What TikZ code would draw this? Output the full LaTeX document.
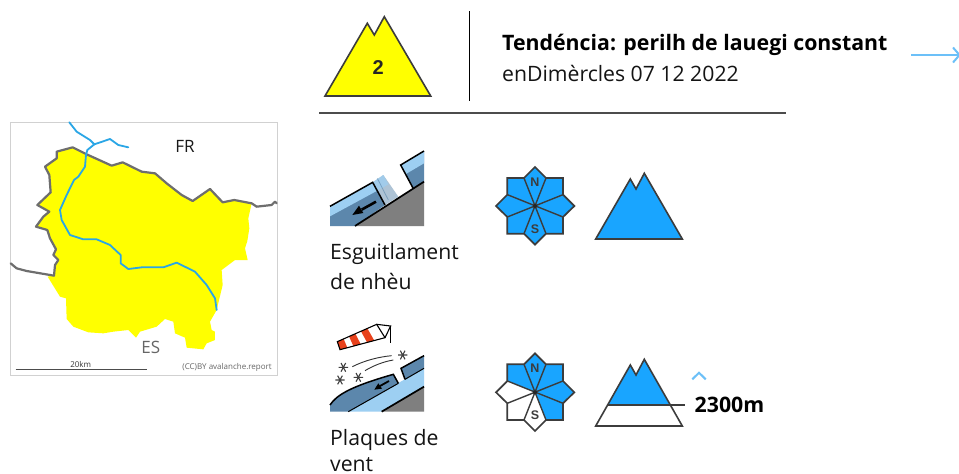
\documentclass[tikz,border=0pt]{standalone}
\usepackage{fontspec}
\setmainfont{Open Sans}
\newfontfamily\arialf{Liberation Sans}
\definecolor{hazardyellow}{HTML}{FFFF00}
\definecolor{dangerblue}{HTML}{19A5FF}
\definecolor{riverblue}{HTML}{2AA6E6}
\definecolor{bordergray}{HTML}{6E6E6E}
\definecolor{iconline}{HTML}{3C3C3C}
\definecolor{slabdark}{HTML}{5C87AC}
\definecolor{slablight}{HTML}{9DCFF2}
\definecolor{groundgray}{HTML}{7F7F7F}
\definecolor{sockred}{HTML}{E8421C}
\definecolor{uiblue}{HTML}{6CC0F8}
\tikzset{
  txt/.style={anchor=base west,inner sep=0pt,font=\fontsize{21.2}{21}\selectfont,text=black!92},
  txtb/.style={txt,font=\fontsize{21.3}{21}\selectfont\bfseries,text=black},
  mtn/.style={draw=iconline,line width=1.6pt,line join=miter},
  roseline/.style={draw=iconline,line width=1.7pt,line join=miter},
  rosetxt/.style={font=\arialf\bfseries\fontsize{12.5}{12}\selectfont,text=iconline,inner sep=0pt},
  border/.style={draw=bordergray,line width=2.2pt,line join=round,line cap=round},
  river/.style={draw=riverblue,line width=1.8pt,line join=round,line cap=round},
  zoomed/.style={x=0.33333pt,y=-0.33333pt},
  uiline/.style={draw=uiblue,line width=2pt}
}
% centre x, centre y, colours N NE E SE S SW W NW
\newcommand{\windrose}[9]{%
\begin{scope}[shift={(#1,#2)},zoomed]
  \fill[#3] (0,0)--(-33,-84)--(0,-117)--(33,-84)--cycle;
  \fill[#4] (0,0)--(33,-84)--(84,-84)--(84,-34)--cycle;
  \fill[#5] (0,0)--(84,-34)--(118,0)--(84,33)--cycle;
  \fill[#6] (0,0)--(84,33)--(84,83)--(33,83)--cycle;
  \fill[#7] (0,0)--(33,83)--(0,116)--(-33,83)--cycle;
  \fill[#8] (0,0)--(-33,83)--(-83,83)--(-83,33)--cycle;
  \fill[#9] (0,0)--(-83,33)--(-117,0)--(-83,-34)--cycle;
  \windroseb}
\newcommand{\windroseb}[1]{%
  \fill[#1] (0,0)--(-83,-34)--(-83,-84)--(-33,-84)--cycle;
  \draw[roseline] (0,-117)--(33,-84)--(84,-84)--(84,-34)--(118,0)--(84,33)--(84,83)--(33,83)--(0,116)--(-33,83)--(-83,83)--(-83,33)--(-117,0)--(-83,-34)--(-83,-84)--(-33,-84)--cycle;
  \draw[roseline,line width=1.4pt] (-33,-84)--(33,83) (33,-84)--(-33,83) (84,-34)--(-83,33) (84,33)--(-83,-34);
  \fill[black!85] (0,0) circle (6);
  \node[rosetxt] at (0,-72) {N};
  \node[rosetxt] at (0,70) {S};
\end{scope}}
\newcommand{\snowstar}[2]{%
  \draw[black!75,line width=1.1pt,shift={(#1,#2)}] (-14,0)--(14,0) (-7,-13)--(7,13) (7,-13)--(-7,13);}
\begin{document}
\begin{tikzpicture}[x=1pt,y=-1pt]
\useasboundingbox (0,0) rectangle (959,474);
\fill[white] (0,0) rectangle (959,474);

% ---------- header
\draw[mtn,fill=hazardyellow] (325,96)--(367.3,23.3)--(374.3,35)--(384.3,16.7)--(430.7,96)--cycle;
\node[font=\arialf\bfseries\fontsize{20}{20}\selectfont,text=black!85,inner sep=0pt] (lvl) at (378.3,68) {2};
\draw[black,line width=1.5pt] (469.3,11)--(469.3,101);
\draw[black!70,line width=1.5pt] (319,113)--(786,113);
\node[txtb] (title) at (502,50) {Tendéncia: perilh de lauegi constant};
\node[txt] (date) at (502,81) {enDimèrcles 07 12 2022};
\draw[uiline] (911,55)--(959,55);
\draw[uiline] (953,47.5)--(959.5,55)--(953,62.5);

% ---------- map
\draw[black!18,line width=0.8pt,fill=white] (10,122) rectangle (277,375);
\begin{scope}[shift={(0,115)},zoomed]
  \fill[hazardyellow] (170,110)--(218,97)--(260,118)--(335,152)--(368,142)--(425,170)--(465,175)--(500,205)--(545,240)--(578,258)--(630,222)--(668,262)--(703,255)--(755,265)--(745,310)--(748,340)--(742,378)--(735,400)--(743,435)--(705,435)--(665,465)--(668,510)--(650,585)--(630,620)--(635,645)--(645,650)--(645,675)--(620,685)--(610,703)--(560,698)--(555,668)--(525,655)--(520,620)--(495,612)--(470,635)--(420,650)--(408,668)--(385,645)--(340,650)--(310,655)--(265,652)--(220,635)--(200,612)--(198,550)--(180,545)--(143,485)--(162,480)--(165,450)--(175,435)--(160,420)--(168,403)--(150,370)--(142,345)--(108,335)--(130,305)--(148,290)--(112,270)--(152,232)--(148,180)--(135,155)--(170,130)--cycle;
  \draw[border] (32,445)--(50,460)--(80,468)--(162,482)--(165,450)--(175,435)--(160,420)--(168,403)--(150,370)--(142,345)--(108,335)--(130,305)--(148,290)--(112,270)--(152,232)--(148,180)--(135,155)--(170,130)--(170,110)--(218,97)--(260,118)--(335,152)--(368,142)--(425,170)--(465,175)--(500,205)--(545,240)--(578,258)--(630,222)--(668,262)--(703,255)--(755,265)--(770,275)--(815,270)--(825,260)--(830,265);
  \draw[river] (208,22)--(230,50)--(270,75)--(283,88)--(262,105)--(258,120)--(255,155)--(235,185)--(222,195)--(200,240)--(180,285)--(185,315)--(210,360)--(250,373)--(290,373)--(330,390)--(362,420)--(362,445)--(385,462)--(425,457)--(490,457)--(530,443)--(585,470)--(620,510)--(645,550)--(650,585);
  \draw[river] (283,88)--(330,72)--(355,90)--(385,97);
\end{scope}
\node[font=\fontsize{17}{17}\selectfont,text=black!90,inner sep=0pt] (fr) at (185,146.5) {FR};
\node[font=\fontsize{17}{17}\selectfont,text=black!60,inner sep=0pt] (es) at (150.7,347) {ES};
\node[font=\fontsize{8}{8}\selectfont,text=black!80,inner sep=0pt] (km) at (80.7,364.3) {20km};
\draw[black!70,line width=1.1pt] (15.7,369.3)--(146.7,369.3);
\node[font=\fontsize{8}{8}\selectfont,text=black!60,inner sep=0pt,anchor=east] (cc) at (272,367) {(CC)BY avalanche.report};

% ---------- problem 1 : glide snow
\begin{scope}[shift={(320,145)},zoomed]
  \fill[groundgray] (105,243)--(312,110)--(312,243)--cycle;
  \fill[slabdark] (30,184)--(158,112)--(195,180)--(105,243)--(30,243)--cycle;
  \fill[slablight] (30,184)--(158,112)--(172,137)--(30,214)--cycle;
  \fill[slabdark!90!white,opacity=.55] (158,112)--(190,90)--(235,155)--(195,180)--cycle;
  \fill[slablight,opacity=.75] (158,112)--(190,90)--(205,118)--(172,137)--cycle;
  \draw[slabdark,opacity=.6,line width=0.8pt] (172,100)--(205,165);
  \fill[slabdark] (242,60)--(312,18)--(312,112)--(280,131)--cycle;
  \fill[slablight] (242,60)--(312,18)--(312,55)--(256,88)--cycle;
  \draw[black,line width=1.5pt] (30,184)--(158,112)--(195,180);
  \draw[black,line width=1.5pt] (280,131)--(242,60)--(312,18);
  \draw[black,line width=1.7pt] (105,243)--(312,110);
  \draw[black,line width=2.6pt] (168,170)--(125,194);
  \fill[black] (97,210)--(117,182)--(130,204)--cycle;
\end{scope}
\node[txt] (p1a) at (330,259) {Esguitlament};
\node[txt] (p1b) at (330,289) {de nhèu};

% ---------- problem 2 : wind slab
\begin{scope}[shift={(320,315)},zoomed]
  \fill[white] (52,82)--(60,104)--(195,68)--(170,28)--cycle;
  \fill[sockred] (52,80)--(60,104)--(82,98)--(71,72)--cycle;
  \fill[sockred] (87,64)--(100,93)--(122,87)--(106,56)--cycle;
  \fill[sockred] (123,49)--(141,82)--(163,77)--(142,40)--cycle;
  \draw[black,line width=1.1pt] (52,80)--(170,28)--(195,68)--(60,104)--cycle;
  \draw[black,line width=1.1pt] (170,28)--(212,33)--(195,68);
  \draw[black,line width=1.1pt] (212,33)--(212,85);
  \snowstar{70}{157}\snowstar{60}{195}\snowstar{115}{187}\snowstar{248}{120}
  \draw[black!80,line width=0.9pt] (97,155) .. controls (135,136) and (175,126) .. (215,122);
  \draw[black!80,line width=0.9pt] (135,167) .. controls (160,152) and (190,140) .. (220,135);
  \fill[groundgray] (185,290)--(312,215)--(312,290)--cycle;
  \fill[slablight] (85,290)--(312,160)--(312,215)--(185,290)--cycle;
  \fill[slabdark] (30,290)--(30,270) .. controls (50,240) and (90,215) .. (220,178)--(235,205)--(85,290)--cycle;
  \fill[slabdark] (243,160)--(312,122)--(312,160)--(255,193)--cycle;
  \draw[black,line width=1.5pt] (30,270) .. controls (50,240) and (90,215) .. (220,178)--(235,205);
  \draw[black,line width=1.5pt] (255,193)--(243,160)--(312,122);
  \draw[black,line width=1pt] (85,290)--(235,205) (255,193)--(312,160);
  \draw[black,line width=1.7pt] (185,290)--(312,215);
  \draw[black,line width=1.8pt] (207,198)--(180,213);
  \fill[black] (163,224)--(175,205)--(186,221)--cycle;
\end{scope}
\node[txt] (p2a) at (330,445) {Plaques de};
\node[txt] (p2b) at (330,471.5) {vent};

% ---------- aspects and elevations
\windrose{535}{206}{dangerblue}{dangerblue}{dangerblue}{dangerblue}{dangerblue}{dangerblue}{dangerblue}{dangerblue}
\draw[mtn,fill=dangerblue] (595.7,239)--(630.3,179)--(636,189)--(644.3,173.3)--(682.3,239)--cycle;
\windrose{535}{392.3}{dangerblue}{dangerblue}{dangerblue}{dangerblue}{white}{white}{white}{dangerblue}
\fill[dangerblue] (608.3,404.7)--(630.3,365)--(636,375)--(644.3,359.3)--(669.5,404.7)--cycle;
\draw[mtn] (595.7,426)--(630.3,365)--(636,375)--(644.3,359.3)--(682.3,426)--cycle;
\draw[iconline,line width=1.6pt] (608.3,404.7)--(685,404.7);
\draw[uiline] (692.3,379.3)--(699,372.7)--(705.7,379.3);
\node[txtb] (elev) at (694.5,412.5) {2300m};
\end{tikzpicture}
\end{document}
